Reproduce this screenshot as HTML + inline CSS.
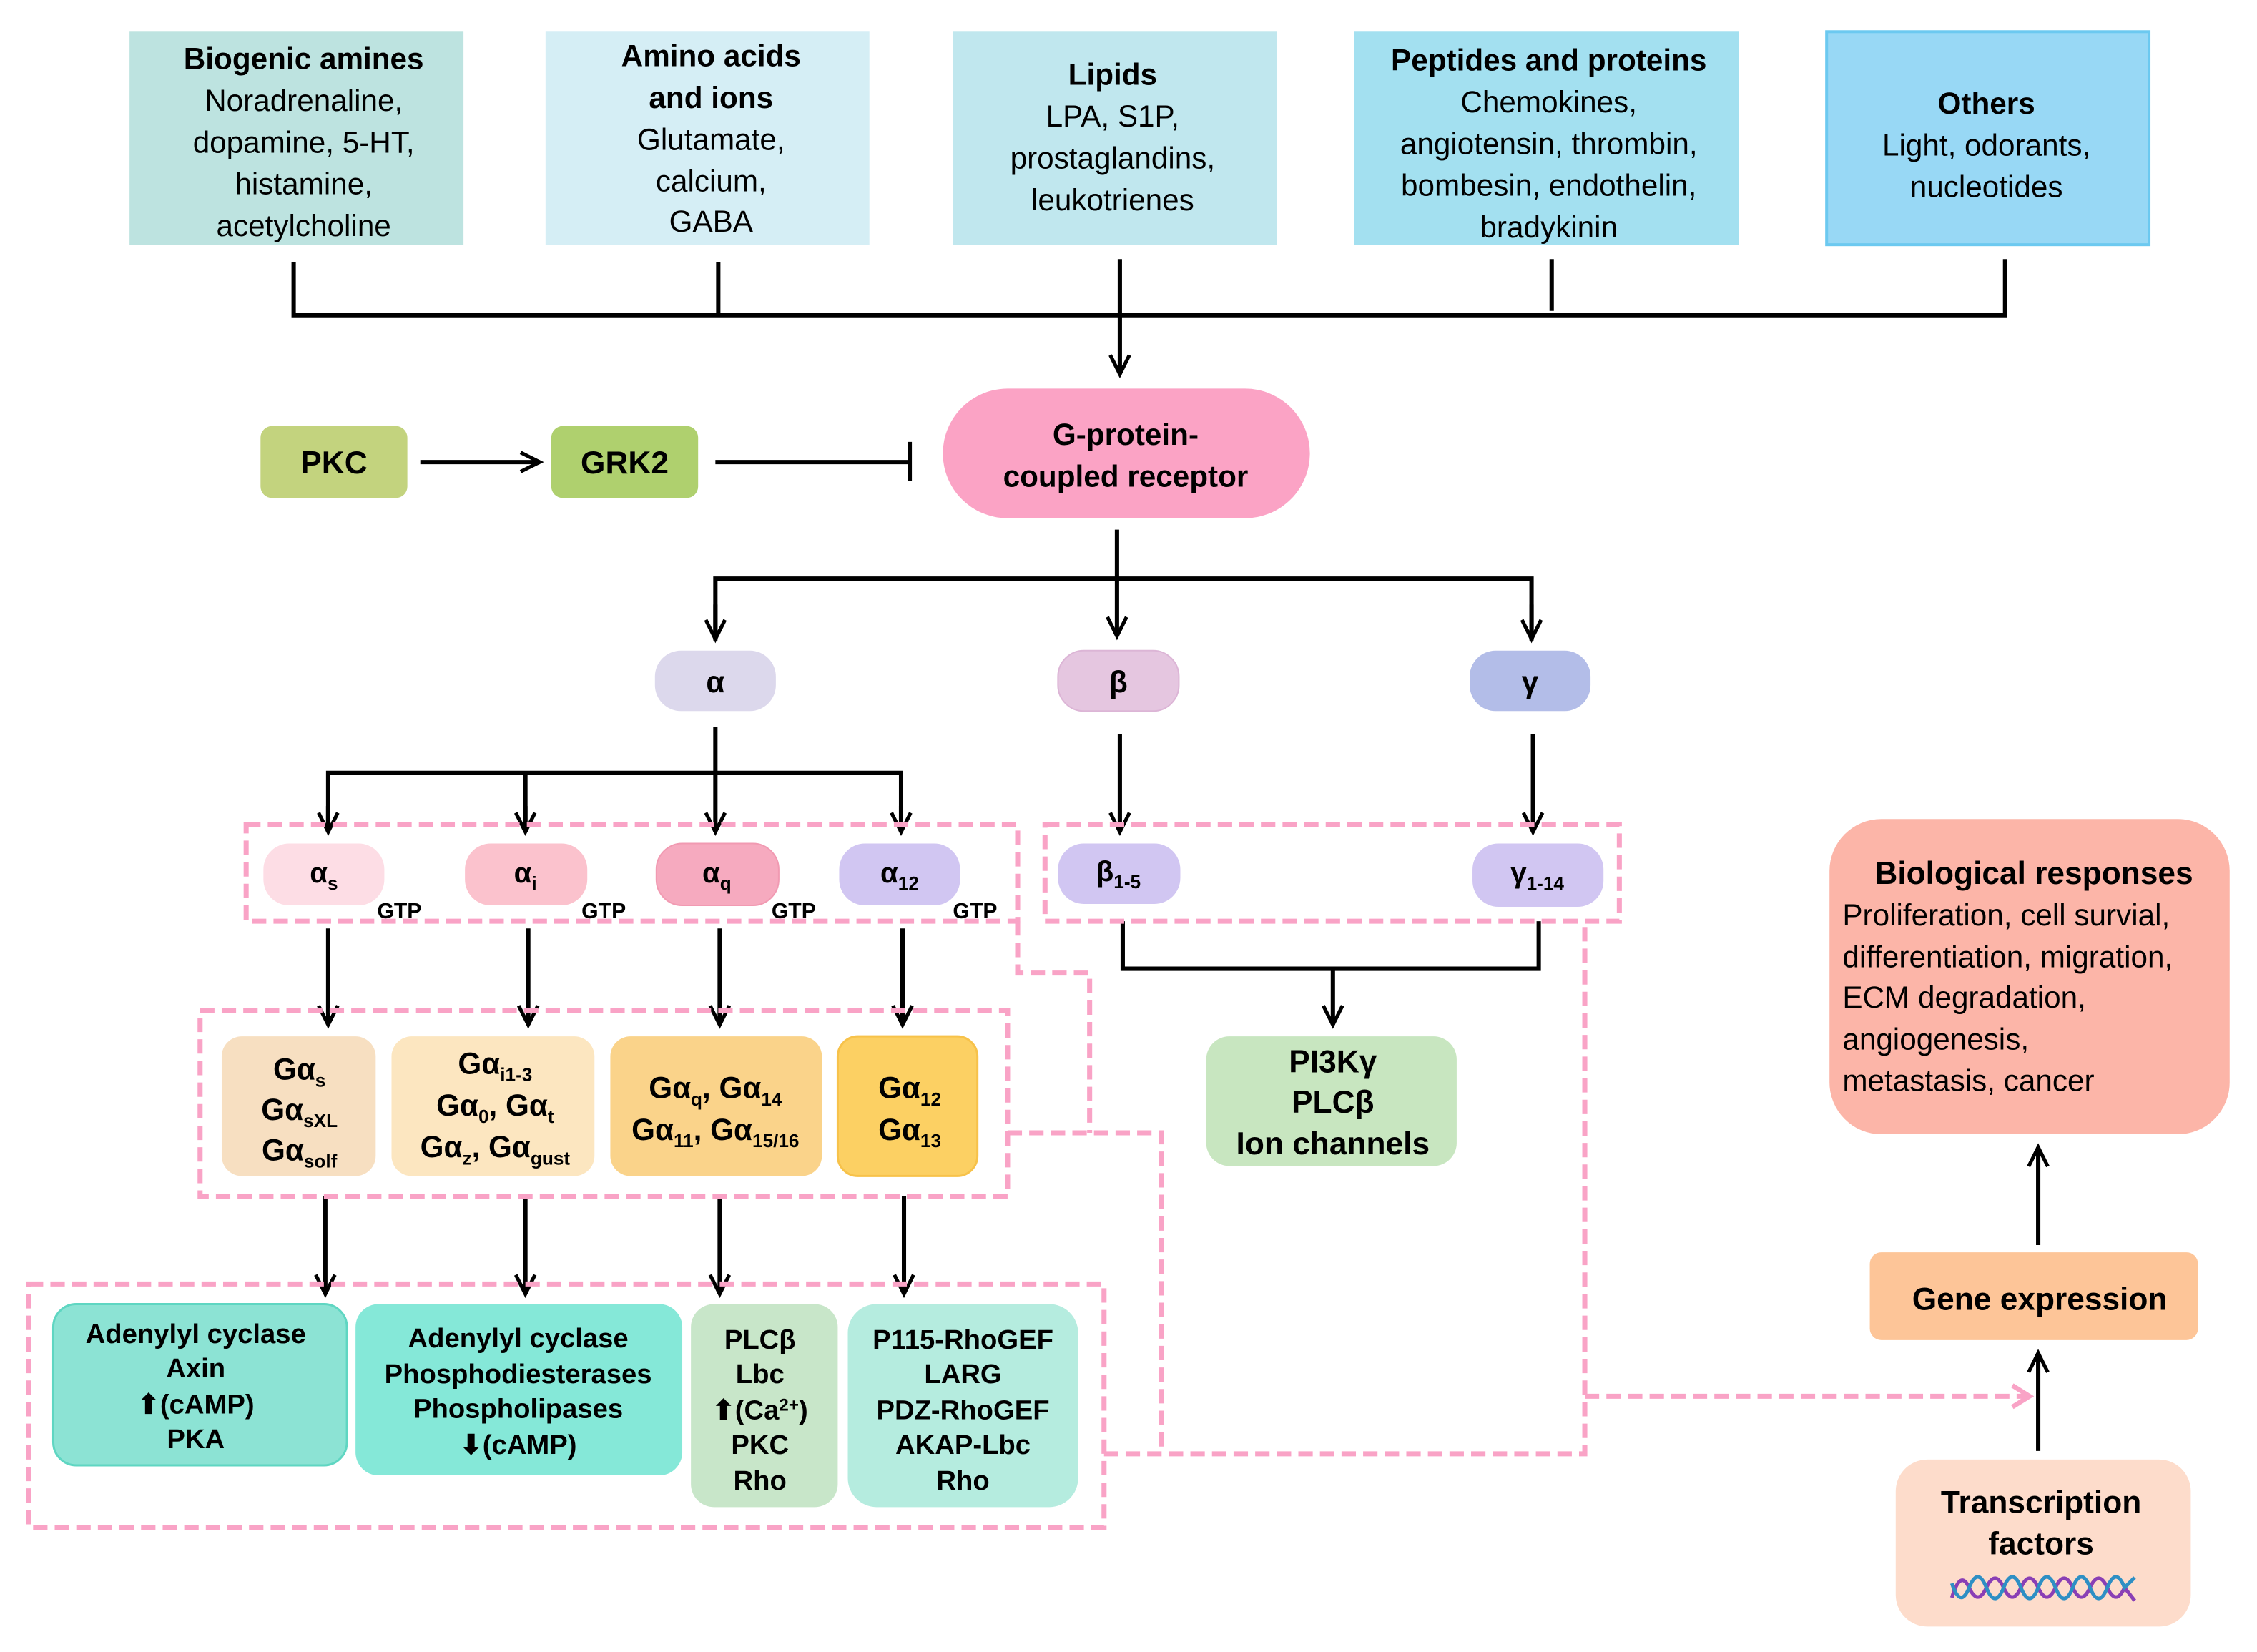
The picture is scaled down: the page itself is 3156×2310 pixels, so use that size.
<!DOCTYPE html>
<html><head><meta charset="utf-8"><style>
html,body{margin:0;padding:0;background:#fff}
svg{display:block}
text{font-family:"Liberation Sans",Arial,sans-serif;fill:#000}
.b{font-weight:bold}
</style></head><body>
<svg width="3156" height="2310" viewBox="0 0 1568 1147.7" preserveAspectRatio="none" xmlns="http://www.w3.org/2000/svg">
<defs>
<marker id="ah" viewBox="0 0 12 12" refX="11" refY="6" markerWidth="16" markerHeight="16" orient="auto" markerUnits="userSpaceOnUse" style="overflow:visible">
<path d="M1,1 L11,6 L1,11" fill="none" stroke="#000" stroke-width="1.9"/>
</marker>
<marker id="ap" viewBox="0 0 12 12" refX="11" refY="6" markerWidth="18" markerHeight="18" orient="auto" markerUnits="userSpaceOnUse" style="overflow:visible">
<path d="M3,1 L11,6 L3,11" fill="none" stroke="#f9a3c6" stroke-width="2.2"/>
</marker>
</defs>
<rect width="1568" height="1148" fill="#fff"/>

<g font-size="21" text-anchor="middle">
<rect x="90" y="22" width="232" height="148" fill="#bde3e0"/>
<text x="211" y="48" class="b">Biogenic amines</text>
<text x="211" y="77">Noradrenaline,</text><text x="211" y="106">dopamine, 5-HT,</text><text x="211" y="135">histamine,</text><text x="211" y="164">acetylcholine</text>

<rect x="379" y="22" width="225" height="148" fill="#d5eef5"/>
<text x="494" y="46" class="b">Amino acids</text><text x="494" y="75" class="b">and ions</text>
<text x="494" y="104">Glutamate,</text><text x="494" y="133">calcium,</text><text x="494" y="161">GABA</text>

<rect x="662" y="22" width="225" height="148" fill="#c0e7ee"/>
<text x="773" y="59" class="b">Lipids</text><text x="773" y="88">LPA, S1P,</text><text x="773" y="117">prostaglandins,</text><text x="773" y="146">leukotrienes</text>

<rect x="941" y="22" width="267" height="148" fill="#a3e0f0"/>
<text x="1076" y="49" class="b">Peptides and proteins</text><text x="1076" y="78">Chemokines,</text><text x="1076" y="107">angiotensin, thrombin,</text><text x="1076" y="136">bombesin, endothelin,</text><text x="1076" y="165">bradykinin</text>

<rect x="1269" y="22" width="224" height="148" fill="#98d8f5" stroke="#6cc9f0" stroke-width="2"/>
<text x="1380" y="79" class="b">Others</text><text x="1380" y="108">Light, odorants,</text><text x="1380" y="137">nucleotides</text>
</g>

<g stroke="#000" stroke-width="3" fill="none">
<path d="M204,182 V219 H1393 V180 M499,182 V220 M1078,180 V216"/>
<path d="M778,180 V260" marker-end="url(#ah)"/>
<path d="M292,321 H375" marker-end="url(#ah)"/>
<path d="M497,321 H631 M632,307 V334"/>
<path d="M776,368 V442" marker-end="url(#ah)"/>
<path d="M497,445 V402 H1064 V445" />
<path d="M497,420 V444" marker-end="url(#ah)"/>
<path d="M1064,420 V444" marker-end="url(#ah)"/>
<path d="M497,505 V578" marker-end="url(#ah)"/>
<path d="M228,578 V537 H626 V578 M365,537 V578"/>
<path d="M228,560 V578" marker-end="url(#ah)"/>
<path d="M365,560 V578" marker-end="url(#ah)"/>
<path d="M626,560 V578" marker-end="url(#ah)"/>
<path d="M778,510 V578" marker-end="url(#ah)"/>
<path d="M1065,510 V578" marker-end="url(#ah)"/>
<path d="M228,645 V712" marker-end="url(#ah)"/>
<path d="M367,645 V712" marker-end="url(#ah)"/>
<path d="M500,645 V712" marker-end="url(#ah)"/>
<path d="M627,645 V712" marker-end="url(#ah)"/>
<path d="M226,831 V899" marker-end="url(#ah)"/>
<path d="M365,831 V899" marker-end="url(#ah)"/>
<path d="M500,831 V899" marker-end="url(#ah)"/>
<path d="M628,831 V899" marker-end="url(#ah)"/>
<path d="M780,640 V673 H1069 V640"/>
<path d="M926,673 V712" marker-end="url(#ah)"/>
<path d="M1416,1008 V940" marker-end="url(#ah)"/>
<path d="M1416,865 V797" marker-end="url(#ah)"/>
</g>

<rect x="181" y="296" width="102" height="50" rx="8" fill="#c3d37e"/>
<text x="232" y="329" font-size="22" class="b" text-anchor="middle">PKC</text>
<rect x="383" y="296" width="102" height="50" rx="8" fill="#afd06e"/>
<text x="434" y="329" font-size="22" class="b" text-anchor="middle">GRK2</text>
<rect x="655" y="270" width="255" height="90" rx="45" fill="#fba3c5"/>
<text x="782" y="309" font-size="21" class="b" text-anchor="middle">G-protein-</text>
<text x="782" y="338" font-size="21" class="b" text-anchor="middle">coupled receptor</text>

<g font-size="21" class="b" text-anchor="middle">
<rect x="455" y="452" width="84" height="42" rx="18" fill="#dcd8ec"/><text x="497" y="481" class="b">α</text>
<rect x="735" y="452" width="84" height="42" rx="18" fill="#e5c6e0" stroke="#dcb5d6"/><text x="777" y="481" class="b">β</text>
<rect x="1021" y="452" width="84" height="42" rx="18" fill="#b3bde8"/><text x="1063" y="481" class="b">γ</text>
</g>

<g fill="none" stroke="#f9a3c6" stroke-width="3.5" stroke-dasharray="10 5">
<rect x="171" y="573" width="536" height="67"/>
<rect x="726" y="573" width="399" height="67"/>
<rect x="139" y="702" width="561" height="129"/>
<rect x="20" y="892" width="747" height="169"/>
<path d="M707,640 V676 H757 V787"/>
<path d="M700,787 H807 V1010"/>
<path d="M767,1010 H1101 V640"/>
<path d="M1101,970 H1410" marker-end="url(#ap)"/>
</g>

<g font-size="20">
<rect x="183" y="586" width="84" height="43" rx="18" fill="#fddde5"/>
<text x="225" y="613" text-anchor="middle" class="b">α<tspan font-size="13" dy="5">s</tspan></text>
<rect x="323" y="586" width="85" height="43" rx="18" fill="#fbc2cd"/>
<text x="365" y="613" text-anchor="middle" class="b">α<tspan font-size="13" dy="5">i</tspan></text>
<rect x="456" y="586" width="85" height="43" rx="18" fill="#f6aabf" stroke="#f19ab2"/>
<text x="498" y="613" text-anchor="middle" class="b">α<tspan font-size="13" dy="5">q</tspan></text>
<rect x="583" y="586" width="84" height="43" rx="18" fill="#d1c6f2"/>
<text x="625" y="613" text-anchor="middle" class="b">α<tspan font-size="13" dy="5">12</tspan></text>
<g font-size="15" class="b"><text x="262" y="638" class="b">GTP</text><text x="404" y="638" class="b">GTP</text><text x="536" y="638" class="b">GTP</text><text x="662" y="638" class="b">GTP</text></g>
<rect x="735" y="586" width="85" height="42" rx="18" fill="#d1c6f2"/>
<text x="777" y="612" text-anchor="middle" class="b">β<tspan font-size="13" dy="5">1-5</tspan></text>
<rect x="1023" y="586" width="91" height="44" rx="18" fill="#d1c6f2"/>
<text x="1068" y="613" text-anchor="middle" class="b">γ<tspan font-size="13" dy="5">1-14</tspan></text>
</g>

<g font-size="21" text-anchor="middle">
<rect x="154" y="720" width="107" height="97" rx="14" fill="#f7dfc1"/>
<text x="208" y="750" class="b">Gα<tspan font-size="13" dy="5">s</tspan></text>
<text x="208" y="778" class="b">Gα<tspan font-size="13" dy="5">sXL</tspan></text>
<text x="208" y="806" class="b">Gα<tspan font-size="13" dy="5">solf</tspan></text>
<rect x="272" y="720" width="141" height="97" rx="14" fill="#fce6c0"/>
<text x="344" y="746" class="b">Gα<tspan font-size="13" dy="5">i1-3</tspan></text>
<text x="344" y="775" class="b">Gα<tspan font-size="13" dy="5">0</tspan><tspan dy="-5">, Gα</tspan><tspan font-size="13" dy="5">t</tspan></text>
<text x="344" y="804" class="b">Gα<tspan font-size="13" dy="5">z</tspan><tspan dy="-5">, Gα</tspan><tspan font-size="13" dy="5">gust</tspan></text>
<rect x="424" y="720" width="147" height="97" rx="14" fill="#fad38a"/>
<text x="497" y="763" class="b">Gα<tspan font-size="13" dy="5">q</tspan><tspan dy="-5">, Gα</tspan><tspan font-size="13" dy="5">14</tspan></text>
<text x="497" y="792" class="b">Gα<tspan font-size="13" dy="5">11</tspan><tspan dy="-5">, Gα</tspan><tspan font-size="13" dy="5">15/16</tspan></text>
<rect x="582" y="720" width="97" height="97" rx="14" fill="#fcd063" stroke="#f7c24a" stroke-width="1.5"/>
<text x="632" y="763" class="b">Gα<tspan font-size="13" dy="5">12</tspan></text>
<text x="632" y="792" class="b">Gα<tspan font-size="13" dy="5">13</tspan></text>
</g>

<g font-size="19" text-anchor="middle">
<rect x="37" y="906" width="204" height="112" rx="16" fill="#8ce3d4" stroke="#5fd6c2" stroke-width="1.5"/>
<text x="136" y="933" class="b">Adenylyl cyclase</text><text x="136" y="957" class="b">Axin</text><text x="136" y="982" class="b">⬆(cAMP)</text><text x="136" y="1006" class="b">PKA</text>
<rect x="247" y="906" width="227" height="119" rx="16" fill="#85e8d8"/>
<text x="360" y="936" class="b">Adenylyl cyclase</text><text x="360" y="961" class="b">Phosphodiesterases</text><text x="360" y="985" class="b">Phospholipases</text><text x="360" y="1010" class="b">⬇(cAMP)</text>
<rect x="480" y="906" width="102" height="141" rx="16" fill="#c8e6c9"/>
<text x="528" y="937" class="b">PLCβ</text><text x="528" y="961" class="b">Lbc</text><text x="528" y="986" class="b">⬆(Ca<tspan font-size="12" dy="-6">2+</tspan><tspan dy="6">)</tspan></text><text x="528" y="1010" class="b">PKC</text><text x="528" y="1035" class="b">Rho</text>
<rect x="589" y="906" width="160" height="141" rx="20" fill="#b5ecdf"/>
<text x="669" y="937" class="b">P115-RhoGEF</text><text x="669" y="961" class="b">LARG</text><text x="669" y="986" class="b">PDZ-RhoGEF</text><text x="669" y="1010" class="b">AKAP-Lbc</text><text x="669" y="1035" class="b">Rho</text>
</g>

<rect x="838" y="720" width="174" height="90" rx="16" fill="#c8e6c0"/>
<g font-size="22" text-anchor="middle"><text x="926" y="745" class="b">PI3Kγ</text><text x="926" y="773" class="b">PLCβ</text><text x="926" y="802" class="b">Ion channels</text></g>

<rect x="1271" y="569" width="278" height="219" rx="36" fill="#fcb5a8"/>
<text x="1413" y="614" font-size="22" class="b" text-anchor="middle">Biological responses</text>
<g font-size="21"><text x="1280" y="643">Proliferation, cell survial,</text><text x="1280" y="672">differentiation, migration,</text><text x="1280" y="700">ECM degradation,</text><text x="1280" y="729">angiogenesis,</text><text x="1280" y="758">metastasis, cancer</text></g>
<rect x="1299" y="870" width="228" height="61" rx="8" fill="#fdc598"/>
<text x="1417" y="910" font-size="22" class="b" text-anchor="middle">Gene expression</text>
<rect x="1317" y="1014" width="205" height="116" rx="22" fill="#fddccb"/>
<text x="1418" y="1051" font-size="22" class="b" text-anchor="middle">Transcription</text>
<text x="1418" y="1080" font-size="22" class="b" text-anchor="middle">factors</text>
<g fill="none" stroke-width="2.5">
<path d="M1356,1110 Q1362,1090 1368,1103 T1380,1103 T1392,1103 T1404,1103 T1416,1103 T1428,1103 T1440,1103 T1452,1103 T1464,1103 T1476,1103 L1483,1112" stroke="#8a3fb5"/>
<path d="M1356,1100 Q1362,1118 1368,1103 T1380,1103 T1392,1103 T1404,1103 T1416,1103 T1428,1103 T1440,1103 T1452,1103 T1464,1103 T1476,1103 L1483,1096" stroke="#2e8fc4"/>
</g>
</svg>
</body></html>
